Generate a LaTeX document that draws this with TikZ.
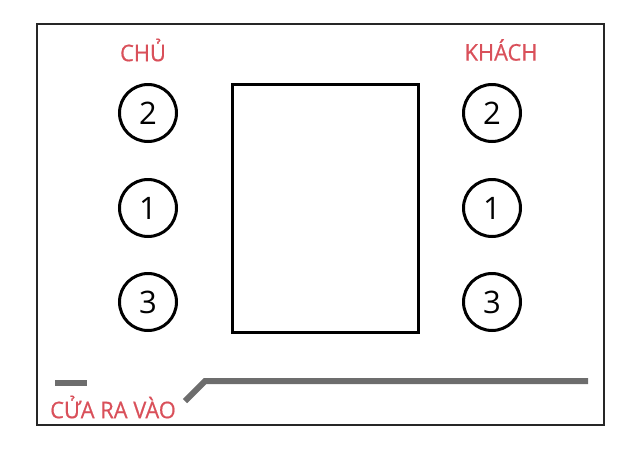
\documentclass[tikz,border=0pt]{standalone}
\usepackage{fontspec}
\setmainfont{Open Sans}
\newfontfamily\lblfont[FakeStretch=0.95,FakeBold=0.6]{Open Sans}
\definecolor{lbl}{HTML}{D9505A}
\definecolor{door}{HTML}{6D6D6D}
\begin{document}
\begin{tikzpicture}[x=1pt,y=-1pt,
  seat/.style={circle,draw=black,line width=3pt,minimum size=57pt,inner sep=0pt,font=\fontsize{31}{33}\selectfont},
  lab/.style={text=lbl,font=\lblfont\fontsize{23}{25}\selectfont,inner sep=0pt},
  doorline/.style={draw=door,line width=6pt}]
\useasboundingbox (0,0) rectangle (640,450);
\draw[line width=2.4pt,black!85] (37,24) rectangle (604,425);
\node[lab] (chu) at (143,50) {CHỦ};
\node[lab] (khach) at (501,50) {KHÁCH};
\node[seat] (c2) at (148,113) {2};
\node[seat] (c1) at (148,208) {1};
\node[seat] (c3) at (148,302) {3};
\node[seat] (k2) at (492,113) {2};
\node[seat] (k1) at (492,208) {1};
\node[seat] (k3) at (492,302) {3};
\node[draw=black,line width=3pt,minimum width=186pt,minimum height=248pt,inner sep=0pt] (table) at (325,208) {};
\coordinate (d0) at (55,383);
\coordinate (d1) at (87,383);
\coordinate (e0) at (185,401);
\coordinate (e1) at (205,381);
\coordinate (e2) at (588,381);
\path[doorline] (d0) -- (d1);
\path[doorline] (e0) -- (e1) -- (e2);
\node[lab] (door) at (113,407) {CỬA RA VÀO};
\end{tikzpicture}
\end{document}
